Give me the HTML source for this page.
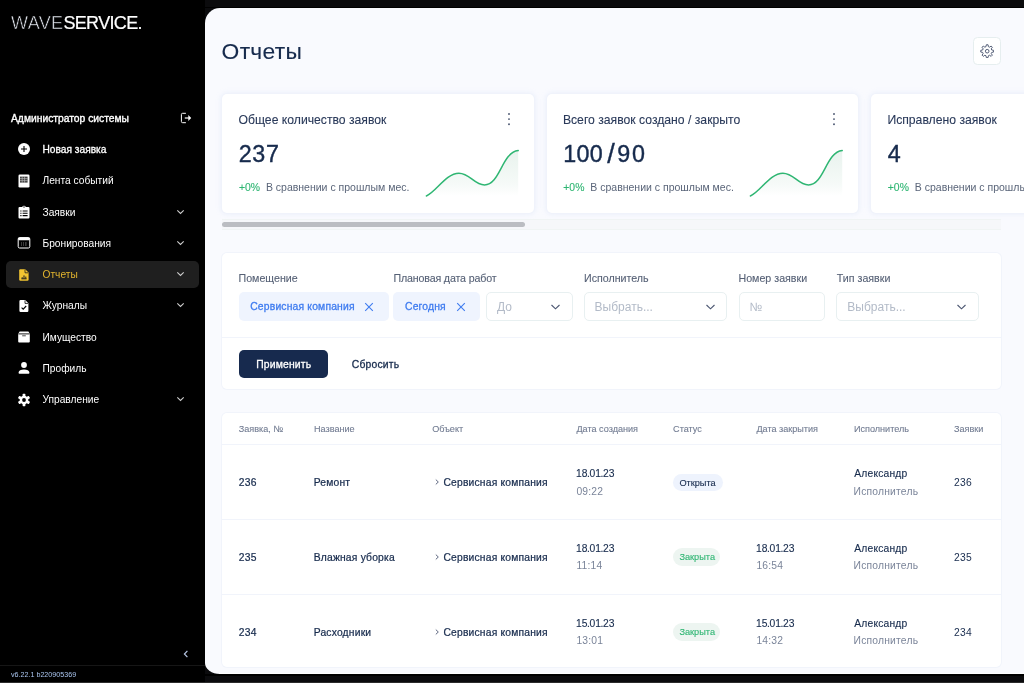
<!DOCTYPE html>
<html lang="ru">
<head>
<meta charset="utf-8">
<title>Отчеты</title>
<style>
*{box-sizing:border-box;margin:0;padding:0}
html,body{width:1024px;height:683px;overflow:hidden;background:#0b0b0d;font-family:"Liberation Sans",sans-serif}
.abs{position:absolute}
#side{position:absolute;left:0;top:0;width:205px;height:683px;background:#000;color:#fff}
#pane{position:absolute;left:205px;top:8px;width:819px;height:666px;background:#f9fafe;border-radius:15px 0 0 15px / 15px 0 0 11px;overflow:hidden}
.logo{position:absolute;left:11px;top:12px;font-size:18px;line-height:22px;white-space:nowrap}
.logo .w{color:#e3e7ef;-webkit-text-stroke:0.55px #000;letter-spacing:0.35px}
.logo .s{color:#fff;-webkit-text-stroke:0.2px #fff;letter-spacing:-0.65px}
.user{position:absolute;left:11px;top:112px;font-size:10.3px;line-height:14px;white-space:nowrap;-webkit-text-stroke:0.35px #fff}
.mi{position:absolute;left:6px;width:193px;height:27px;border-radius:5px;font-size:10.2px;line-height:27px;white-space:nowrap}
.mi span{position:absolute;left:36.5px;top:0}
.mi span.md{-webkit-text-stroke:0.3px #fff}
.mi svg.ic{position:absolute;left:10px;top:5.5px;width:16px;height:16px}
.mi svg.ch{position:absolute;left:170.2px;top:9px;width:9px;height:8px}
.mi.act{background:#1f1f1f;color:#e3b52e}
.ver{position:absolute;left:11px;top:669.5px;font-size:7.15px;line-height:10px;color:#a9c4ee;white-space:nowrap}
.sline{position:absolute;left:0;top:665px;width:205px;height:1px;background:#161616}
.t{position:absolute;white-space:nowrap}
.navy{color:#172b4d}
.ct{color:#2a3a5a;-webkit-text-stroke:0.1px #2a3a5a}
.grn{color:#2fb673}
.gry{color:#5a6579}
.lbl{color:#566176;-webkit-text-stroke:0.1px #566176}
.blue{color:#3f7cf0}
.ph{color:#b3bbc8}
.wht{color:#fff}
.th{color:#727c92;-webkit-text-stroke:0.1px #727c92}
.th2{color:#7a8499}
.md1{-webkit-text-stroke:0.12px #172b4d}
.md2{-webkit-text-stroke:0.22px currentColor}
.md3{-webkit-text-stroke:0.3px #fff}
.md1g{-webkit-text-stroke:0.12px #2fb673}
.dt{letter-spacing:-0.45px}
.sl{margin:0 2.6px 0 4.2px;font-size:27px;line-height:10px;position:relative;top:1.2px;letter-spacing:0}
.card{position:absolute;width:311.7px;height:118.7px;background:#fff;border-radius:5px;box-shadow:0 0 0 1px #f0f3fb,0 0 5px 1px rgba(226,233,250,.7)}
.gbtn{position:absolute;width:28px;height:27.8px;background:#fff;border:1px solid #e6eeef;border-radius:4.5px}
.gbtn svg{position:absolute;left:5.8px;top:5.8px}
.strack{position:absolute;width:779px;height:10.6px;background:#f6f7fa;border-top:1px solid #f0f4f4;border-bottom:1px solid #f0f4f4}
.sthumb{position:absolute;width:303.2px;height:5.6px;background:#bbbdc2;border-radius:3px}
.panel{position:absolute;background:#fff;border-radius:5px;box-shadow:0 0 0 1px #f1f4fb}
.hr{position:absolute;height:1px;background:#f1f4fb}
.chip{position:absolute;height:28.8px;background:#eff4fe;border-radius:5px}
.inp{position:absolute;height:28.8px;background:#fff;border:1px solid #e8f0f1;border-radius:5px}
.btn{position:absolute;width:89.7px;height:28.3px;background:#172a4e;border-radius:5px}
.bdg{position:absolute;height:17.5px;border-radius:9px}
.bline{position:absolute;left:0;top:681.5px;width:1024px;height:1.5px;background:#2c2c2c}
.tline{position:absolute;left:205px;top:6.5px;width:819px;height:1.5px;background:#000}
.pd{margin:0 -0.45px}
.bband{position:absolute;left:205px;top:674px;width:819px;height:2px;background:#000}
.wline{position:absolute;left:14px;top:665px;width:805px;height:1px;background:#fff}
.md4{-webkit-text-stroke:0.4px #172b4d}
.md3b{-webkit-text-stroke:0.3px #3f7cf0}
.md3n{-webkit-text-stroke:0.3px #172b4d}
</style>
</head>
<body>
<div id="side">
  <div class="logo"><span class="w">WAVE</span><span class="s">SERVICE.</span></div>
  <div class="user">Администратор системы</div>
  <svg class="abs" style="left:179px;top:111px" width="14" height="14" viewBox="0 0 14 14"><path d="M6.9 2.3H3.6a1.2 1.2 0 0 0-1.2 1.2v7a1.2 1.2 0 0 0 1.2 1.2h3.3" stroke="#fff" stroke-width="1" fill="none"/><path d="M5.8 7h4" stroke="#fff" stroke-width="1.2"/><path d="M9.3 4.1L12.2 7L9.3 9.9z" fill="#fff"/></svg>
  <div class="mi" style="top:135.9px"><svg class="ic" viewBox="0 0 16 16"><circle cx="8" cy="8" r="6" fill="#fff"/><path d="M8 5v6M5 8h6" stroke="#000" stroke-width="1.1" fill="none"/></svg><span class="md">Новая заявка</span></div>
  <div class="mi" style="top:167.2px"><svg class="ic" viewBox="0 0 16 16"><rect x="2.5" y="1.5" width="11" height="13" rx="1.3" fill="#fff"/><path d="M4 3.6h7.6v6H4z" fill="#000" opacity=".75"/><path d="M6.2 3.6v6M8.6 3.6v6M4 5.6h7.6M4 7.6h7.6" stroke="#fff" stroke-width=".6" opacity=".7"/></svg><span>Лента событий</span></div>
  <div class="mi" style="top:198.5px"><svg class="ic" viewBox="0 0 16 16"><path d="M3.6 3h2.6a1.9 1.9 0 0 1 3.6 0h2.6a1.1 1.1 0 0 1 1.1 1.1v9.4a1.1 1.1 0 0 1-1.1 1.1H3.6a1.1 1.1 0 0 1-1.1-1.1V4.1A1.1 1.1 0 0 1 3.6 3z" fill="#fff"/><circle cx="8" cy="3" r=".7" fill="#000"/><path d="M4.3 7h1.2M6.6 7h5M4.3 9.3h1.2M6.6 9.3h5M4.3 11.6h1.2M6.6 11.6h5" stroke="#000" stroke-width="1.1"/></svg><span>Заявки</span><svg class="ch" viewBox="0 0 9 8"><path d="M1.3 2.4L4.5 5.4L7.7 2.4" stroke="#cdcdcd" stroke-width="1.1" fill="none"/></svg></div>
  <div class="mi" style="top:229.7px"><svg class="ic" viewBox="0 0 16 16"><rect x="2.2" y="2.6" width="11.6" height="10.4" rx="1.4" fill="none" stroke="#fff" stroke-width="1"/><rect x="2.2" y="2.6" width="11.6" height="2.6" rx="1" fill="#fff"/><path d="M5 8h1M7 8h1M9 8h1.6M5 10h1M7 10h1M9 10h1.6" stroke="#fff" stroke-width="1" opacity=".45"/></svg><span>Бронирования</span><svg class="ch" viewBox="0 0 9 8"><path d="M1.3 2.4L4.5 5.4L7.7 2.4" stroke="#cdcdcd" stroke-width="1.1" fill="none"/></svg></div>
  <div class="mi act" style="top:261px"><svg class="ic" viewBox="0 0 16 16"><path d="M4.4 2.2h4.8l3.4 3.4v7a1.2 1.2 0 0 1-1.2 1.2H4.4a1.2 1.2 0 0 1-1.2-1.2V3.4a1.2 1.2 0 0 1 1.2-1.2z" fill="#f2c531"/><path d="M9 2.6v3.2h3.2" stroke="#1f1f1f" stroke-width=".8" fill="none"/><path d="M5.4 11.8h5.2M6.2 11.6v-1.4M8 11.6V8.4M9.8 11.6V9.6" stroke="#1f1f1f" stroke-width="1"/></svg><span>Отчеты</span><svg class="ch" viewBox="0 0 9 8"><path d="M1.3 2.4L4.5 5.4L7.7 2.4" stroke="#cdcdcd" stroke-width="1.1" fill="none"/></svg></div>
  <div class="mi" style="top:292.3px"><svg class="ic" viewBox="0 0 16 16"><path d="M4.6 2h4.6l3.2 3.2v7.6a1.2 1.2 0 0 1-1.2 1.2H4.6a1.2 1.2 0 0 1-1.2-1.2V3.2a1.2 1.2 0 0 1 1.2-1.2z" fill="#fff"/><path d="M9 2.4v3h3" stroke="#000" stroke-width=".8" fill="none"/><path d="M5.6 9.6l1.6 1.6l3-3.2" stroke="#000" stroke-width="1.1" fill="none"/></svg><span>Журналы</span><svg class="ch" viewBox="0 0 9 8"><path d="M1.3 2.4L4.5 5.4L7.7 2.4" stroke="#cdcdcd" stroke-width="1.1" fill="none"/></svg></div>
  <div class="mi" style="top:323.6px"><svg class="ic" viewBox="0 0 16 16"><path d="M3.6 2.6h8.8l1.4 2.2v7.8a1 1 0 0 1-1 1H3.2a1 1 0 0 1-1-1V4.8z" fill="#fff"/><path d="M2.4 4.9h11.2" stroke="#000" stroke-width=".9"/><path d="M6.2 6.8h3.6" stroke="#000" stroke-width="1" opacity=".7"/></svg><span>Имущество</span></div>
  <div class="mi" style="top:354.9px"><svg class="ic" viewBox="0 0 16 16"><circle cx="8" cy="5" r="2.9" fill="#fff"/><path d="M2.6 12.6c0-2 2.4-3.1 5.4-3.1s5.4 1.1 5.4 3.1v.4a.8.8 0 0 1-.8.8H3.4a.8.8 0 0 1-.8-.8z" fill="#fff"/></svg><span>Профиль</span></div>
  <div class="mi" style="top:386.1px"><svg class="ic" viewBox="0 0 16 16"><g fill="#fff"><circle cx="8" cy="8" r="4.3"/><rect x="6.6" y="1.8" width="2.8" height="12.4" rx=".6"/><rect x="6.6" y="1.8" width="2.8" height="12.4" rx=".6" transform="rotate(60 8 8)"/><rect x="6.6" y="1.8" width="2.8" height="12.4" rx=".6" transform="rotate(120 8 8)"/></g><circle cx="8" cy="8" r="1.9" fill="#000"/></svg><span>Управление</span><svg class="ch" viewBox="0 0 9 8"><path d="M1.3 2.4L4.5 5.4L7.7 2.4" stroke="#cdcdcd" stroke-width="1.1" fill="none"/></svg></div>
  <svg class="abs" style="left:182px;top:649px" width="8" height="10" viewBox="0 0 8 10"><path d="M5.4 1.8L2.4 5L5.4 8.2" stroke="#b7c6e3" stroke-width="1.2" fill="none"/></svg>
  <div class="sline"></div>
  <div class="ver">v6.22.1 b220905369</div>
</div>
<div id="pane">
  <div class="t navy md1" style="left:16.6px;top:29px;font-size:22.8px;line-height:28px;letter-spacing:0.3px;">Отчеты</div>
  <div class="gbtn" style="left:768.2px;top:28.9px"><svg width="14.4" height="14.4" viewBox="0 0 16 16"><path d="M7.04 0.86 L8.96 0.86 L9.33 2.97 L10.61 3.50 L12.37 2.28 L13.72 3.63 L12.50 5.39 L13.03 6.67 L15.14 7.04 L15.14 8.96 L13.03 9.33 L12.50 10.61 L13.72 12.37 L12.37 13.72 L10.61 12.50 L9.33 13.03 L8.96 15.14 L7.04 15.14 L6.67 13.03 L5.39 12.50 L3.63 13.72 L2.28 12.37 L3.50 10.61 L2.97 9.33 L0.86 8.96 L0.86 7.04 L2.97 6.67 L3.50 5.39 L2.28 3.63 L3.63 2.28 L5.39 3.50 L6.67 2.97Z" fill="none" stroke="#4a5570" stroke-width="1.05" stroke-linejoin="round"/><circle cx="8" cy="8" r="2" fill="none" stroke="#4a5570" stroke-width="1.05"/></svg></div>
  <div class="card" style="left:17.3px;top:86.2px"></div>
  <div class="t ct" style="left:33.5px;top:104px;font-size:12.2px;line-height:16px;">Общее количество заявок</div>
  <div class="t navy md4" style="left:33.8px;top:132px;font-size:23.3px;line-height:28px;letter-spacing:0.6px;">237</div>
  <div class="t grn md1g" style="left:33.9px;top:173px;font-size:10.4px;line-height:13px;">+0%</div>
  <div class="t gry" style="left:60.9px;top:172px;font-size:10.5px;line-height:14px;">В сравнении с прошлым мес.</div>
  <svg class="abs" style="left:302.2px;top:104.3px" width="4" height="14" viewBox="0 0 4 14"><circle cx="2" cy="2" r=".95" fill="#4a5570"/><circle cx="2" cy="7.1" r=".95" fill="#4a5570"/><circle cx="2" cy="12.2" r=".95" fill="#4a5570"/></svg>
  <svg class="abs" style="left:217px;top:138px" width="100" height="56" viewBox="0 0 100 56"><defs><linearGradient id="g0" x1="0" y1="0" x2="0" y2="1"><stop offset="0" stop-color="#4f9f78" stop-opacity=".13"/><stop offset="0.75" stop-color="#4f9f78" stop-opacity=".05"/><stop offset="1" stop-color="#4f9f78" stop-opacity="0"/></linearGradient></defs><path d="M4.4 50 C14 46 24 27.2 36.9 27.2 C48 27.2 52 39 62.6 39 C78 39 80 6 96.2 4.6 L96.2 50 L4.4 50Z" fill="url(#g0)"/><path d="M4.4 50 C14 46 24 27.2 36.9 27.2 C48 27.2 52 39 62.6 39 C78 39 80 6 96.2 4.6" fill="none" stroke="#2fb673" stroke-width="1.5" stroke-linecap="round"/></svg>
  <div class="card" style="left:341.7px;top:86.2px"></div>
  <div class="t ct" style="left:357.9px;top:104px;font-size:12.2px;line-height:16px;">Всего заявок создано / закрыто</div>
  <div class="t navy md4" style="left:358.2px;top:132px;font-size:23.3px;line-height:28px;letter-spacing:0.6px;"><span style="letter-spacing:.3px">100</span><span class="sl">/</span><span style="letter-spacing:1.7px">90</span></div>
  <div class="t grn md1g" style="left:358.3px;top:173px;font-size:10.4px;line-height:13px;">+0%</div>
  <div class="t gry" style="left:385.3px;top:172px;font-size:10.5px;line-height:14px;">В сравнении с прошлым мес.</div>
  <svg class="abs" style="left:626.6px;top:104.3px" width="4" height="14" viewBox="0 0 4 14"><circle cx="2" cy="2" r=".95" fill="#4a5570"/><circle cx="2" cy="7.1" r=".95" fill="#4a5570"/><circle cx="2" cy="12.2" r=".95" fill="#4a5570"/></svg>
  <svg class="abs" style="left:541.4px;top:138px" width="100" height="56" viewBox="0 0 100 56"><defs><linearGradient id="g1" x1="0" y1="0" x2="0" y2="1"><stop offset="0" stop-color="#4f9f78" stop-opacity=".13"/><stop offset="0.75" stop-color="#4f9f78" stop-opacity=".05"/><stop offset="1" stop-color="#4f9f78" stop-opacity="0"/></linearGradient></defs><path d="M4.4 50 C14 46 24 27.2 36.9 27.2 C48 27.2 52 39 62.6 39 C78 39 80 6 96.2 4.6 L96.2 50 L4.4 50Z" fill="url(#g1)"/><path d="M4.4 50 C14 46 24 27.2 36.9 27.2 C48 27.2 52 39 62.6 39 C78 39 80 6 96.2 4.6" fill="none" stroke="#2fb673" stroke-width="1.5" stroke-linecap="round"/></svg>
  <div class="card" style="left:666.2px;top:86.2px"></div>
  <div class="t ct" style="left:682.4px;top:104px;font-size:12.2px;line-height:16px;">Исправлено заявок</div>
  <div class="t navy md4" style="left:682.7px;top:132px;font-size:23.3px;line-height:28px;letter-spacing:0.6px;">4</div>
  <div class="t grn md1g" style="left:682.8px;top:173px;font-size:10.4px;line-height:13px;">+0%</div>
  <div class="t gry" style="left:709.8px;top:172px;font-size:10.5px;line-height:14px;">В сравнении с прошлым мес.</div>
  <div class="strack" style="left:17px;top:211.3px"></div>
  <div class="sthumb" style="left:17px;top:213.9px"></div>
  <div class="panel" style="left:17px;top:244.7px;width:779px;height:136.3px"></div>
  <div class="hr" style="left:17px;top:329.4px;width:779px"></div>
  <div class="t lbl" style="left:33.5px;top:263px;font-size:10.67px;line-height:14px;">Помещение</div>
  <div class="t lbl" style="left:188.4px;top:263px;font-size:10.67px;line-height:14px;letter-spacing:-0.15px;">Плановая дата работ</div>
  <div class="t lbl" style="left:379px;top:263px;font-size:10.67px;line-height:14px;">Исполнитель</div>
  <div class="t lbl" style="left:533.5px;top:263px;font-size:10.67px;line-height:14px;">Номер заявки</div>
  <div class="t lbl" style="left:631.8px;top:263px;font-size:10.67px;line-height:14px;">Тип заявки</div>
  <div class="chip" style="left:33.7px;top:284.3px;width:150.3px"></div>
  <div class="t blue md3b" style="left:45.2px;top:292px;font-size:10.35px;line-height:13px;letter-spacing:0.18px;">Сервисная компания</div>
  <svg class="abs" style="left:159px;top:293.5px" width="10" height="10" viewBox="0 0 10 10"><path d="M1.2 1.2L8.8 8.8M8.8 1.2L1.2 8.8" stroke="#3f7cf0" stroke-width="1.1" fill="none"/></svg>
  <div class="chip" style="left:187.8px;top:284.3px;width:87.6px"></div>
  <div class="t blue md3b" style="left:200px;top:292px;font-size:10.35px;line-height:13px;letter-spacing:0.18px;">Сегодня</div>
  <svg class="abs" style="left:250.9px;top:293.5px" width="10" height="10" viewBox="0 0 10 10"><path d="M1.2 1.2L8.8 8.8M8.8 1.2L1.2 8.8" stroke="#3f7cf0" stroke-width="1.1" fill="none"/></svg>
  <div class="inp" style="left:280.5px;top:284.3px;width:87.2px"></div>
  <div class="t ph" style="left:292px;top:291px;font-size:12px;line-height:16px;">До</div>
  <svg class="abs" style="left:344.7px;top:295.3px" width="11" height="8" viewBox="0 0 11 8"><path d="M1.5 2L5.5 5.8L9.5 2" stroke="#4a5570" stroke-width="1.1" fill="none"/></svg>
  <div class="inp" style="left:378.6px;top:284.3px;width:143.2px"></div>
  <div class="t ph" style="left:389.6px;top:291px;font-size:12px;line-height:16px;">Выбрать...</div>
  <svg class="abs" style="left:499.5px;top:295.3px" width="11" height="8" viewBox="0 0 11 8"><path d="M1.5 2L5.5 5.8L9.5 2" stroke="#4a5570" stroke-width="1.1" fill="none"/></svg>
  <div class="inp" style="left:533.5px;top:284.3px;width:86.2px"></div>
  <div class="t ph" style="left:544.5px;top:291px;font-size:12px;line-height:16px;">№</div>
  <div class="inp" style="left:631.1px;top:284.3px;width:142.6px"></div>
  <div class="t ph" style="left:642.3px;top:291px;font-size:12px;line-height:16px;">Выбрать...</div>
  <svg class="abs" style="left:751.4px;top:295.3px" width="11" height="8" viewBox="0 0 11 8"><path d="M1.5 2L5.5 5.8L9.5 2" stroke="#4a5570" stroke-width="1.1" fill="none"/></svg>
  <div class="btn" style="left:33.7px;top:342px"></div>
  <div class="t wht md3" style="left:51.2px;top:350px;font-size:10.35px;line-height:13px;letter-spacing:0.18px;">Применить</div>
  <div class="t navy md3n" style="left:146.8px;top:350px;font-size:10.35px;line-height:13px;letter-spacing:0.18px;">Сбросить</div>
  <div class="panel" style="left:17px;top:405.2px;width:779px;height:254.2px"></div>
  <div class="hr" style="left:17px;top:436.3px;width:779px"></div>
  <div class="hr" style="left:17px;top:511.2px;width:779px"></div>
  <div class="hr" style="left:17px;top:586.1px;width:779px"></div>
  <div class="t th" style="left:33.7px;top:415px;font-size:9.1px;line-height:12px;">Заявка, №</div>
  <div class="t th" style="left:109px;top:415px;font-size:9.1px;line-height:12px;">Название</div>
  <div class="t th" style="left:227.2px;top:415px;font-size:9.1px;line-height:12px;">Объект</div>
  <div class="t th" style="left:371.4px;top:415px;font-size:9.1px;line-height:12px;">Дата создания</div>
  <div class="t th" style="left:468.1px;top:415px;font-size:9.1px;line-height:12px;">Статус</div>
  <div class="t th" style="left:551.4px;top:415px;font-size:9.1px;line-height:12px;">Дата закрытия</div>
  <div class="t th" style="left:648.9px;top:415px;font-size:9.1px;line-height:12px;">Исполнитель</div>
  <div class="t th" style="left:749px;top:415px;font-size:9.1px;line-height:12px;">Заявки</div>
  <div class="t navy md2" style="left:33.8px;top:468px;font-size:10.3px;line-height:13px;letter-spacing:0.2px;">236</div>
  <div class="t navy md2" style="left:108.7px;top:468px;font-size:10.3px;line-height:13px;letter-spacing:0.2px;">Ремонт</div>
  <svg class="abs" style="left:228.6px;top:470.4px" width="6" height="8" viewBox="0 0 6 8"><path d="M1.8 1.6L4.3 4L1.8 6.4" stroke="#4a5570" stroke-width=".9" fill="none"/></svg>
  <div class="t navy md2" style="left:238.4px;top:468px;font-size:10.3px;line-height:13px;letter-spacing:0.2px;">Сервисная компания</div>
  <div class="t navy md1" style="left:371px;top:459px;font-size:10.3px;line-height:13px;">18<span class="pd">.</span>01<span class="pd">.</span>23</div>
  <div class="t th2" style="left:371.4px;top:477px;font-size:10.3px;line-height:13px;letter-spacing:0.2px;">09:22</div>
  <div class="bdg" style="left:468.4px;top:465.6px;width:49.5px;background:#eef3fd"></div>
  <div class="t navy md1" style="left:474.4px;top:469px;font-size:9.2px;line-height:12px;">Открыта</div>
  <div class="t navy md1" style="left:649.2px;top:459px;font-size:10.3px;line-height:13px;letter-spacing:0.2px;">Александр</div>
  <div class="t th2" style="left:648.6px;top:477px;font-size:10.3px;line-height:13px;letter-spacing:0.2px;">Исполнитель</div>
  <div class="t navy" style="left:749.1px;top:468px;font-size:10.3px;line-height:13px;letter-spacing:0.2px;">236</div>
  <div class="t navy md2" style="left:33.8px;top:543px;font-size:10.3px;line-height:13px;letter-spacing:0.2px;">235</div>
  <div class="t navy md2" style="left:108.7px;top:543px;font-size:10.3px;line-height:13px;letter-spacing:0.2px;">Влажная уборка</div>
  <svg class="abs" style="left:228.6px;top:545.2px" width="6" height="8" viewBox="0 0 6 8"><path d="M1.8 1.6L4.3 4L1.8 6.4" stroke="#4a5570" stroke-width=".9" fill="none"/></svg>
  <div class="t navy md2" style="left:238.4px;top:543px;font-size:10.3px;line-height:13px;letter-spacing:0.2px;">Сервисная компания</div>
  <div class="t navy md1" style="left:371px;top:534px;font-size:10.3px;line-height:13px;">18<span class="pd">.</span>01<span class="pd">.</span>23</div>
  <div class="t th2" style="left:371.4px;top:551px;font-size:10.3px;line-height:13px;letter-spacing:0.2px;">11:14</div>
  <div class="bdg" style="left:468.2px;top:540.4px;width:47.3px;background:#edf5f1"></div>
  <div class="t grn md1g" style="left:474.4px;top:543px;font-size:9.2px;line-height:12px;">Закрыта</div>
  <div class="t navy md1" style="left:551px;top:534px;font-size:10.3px;line-height:13px;">18<span class="pd">.</span>01<span class="pd">.</span>23</div>
  <div class="t th2" style="left:551.4px;top:551px;font-size:10.3px;line-height:13px;letter-spacing:0.2px;">16:54</div>
  <div class="t navy md1" style="left:649.2px;top:534px;font-size:10.3px;line-height:13px;letter-spacing:0.2px;">Александр</div>
  <div class="t th2" style="left:648.6px;top:551px;font-size:10.3px;line-height:13px;letter-spacing:0.2px;">Исполнитель</div>
  <div class="t navy" style="left:749.1px;top:543px;font-size:10.3px;line-height:13px;letter-spacing:0.2px;">235</div>
  <div class="t navy md2" style="left:33.8px;top:618px;font-size:10.3px;line-height:13px;letter-spacing:0.2px;">234</div>
  <div class="t navy md2" style="left:108.7px;top:618px;font-size:10.3px;line-height:13px;letter-spacing:0.2px;">Расходники</div>
  <svg class="abs" style="left:228.6px;top:620px" width="6" height="8" viewBox="0 0 6 8"><path d="M1.8 1.6L4.3 4L1.8 6.4" stroke="#4a5570" stroke-width=".9" fill="none"/></svg>
  <div class="t navy md2" style="left:238.4px;top:618px;font-size:10.3px;line-height:13px;letter-spacing:0.2px;">Сервисная компания</div>
  <div class="t navy md1" style="left:371px;top:609px;font-size:10.3px;line-height:13px;">15<span class="pd">.</span>01<span class="pd">.</span>23</div>
  <div class="t th2" style="left:371.4px;top:626px;font-size:10.3px;line-height:13px;letter-spacing:0.2px;">13:01</div>
  <div class="bdg" style="left:468.2px;top:615.2px;width:47.3px;background:#edf5f1"></div>
  <div class="t grn md1g" style="left:474.4px;top:618px;font-size:9.2px;line-height:12px;">Закрыта</div>
  <div class="t navy md1" style="left:551px;top:609px;font-size:10.3px;line-height:13px;">15<span class="pd">.</span>01<span class="pd">.</span>23</div>
  <div class="t th2" style="left:551.4px;top:626px;font-size:10.3px;line-height:13px;letter-spacing:0.2px;">14:32</div>
  <div class="t navy md1" style="left:649.2px;top:609px;font-size:10.3px;line-height:13px;letter-spacing:0.2px;">Александр</div>
  <div class="t th2" style="left:648.6px;top:626px;font-size:10.3px;line-height:13px;letter-spacing:0.2px;">Исполнитель</div>
  <div class="t navy" style="left:749.1px;top:618px;font-size:10.3px;line-height:13px;letter-spacing:0.2px;">234</div>
  <div class="wline"></div>
</div>
<div class="tline"></div>
<div class="bband"></div>
<div class="bline"></div>
</body>
</html>
